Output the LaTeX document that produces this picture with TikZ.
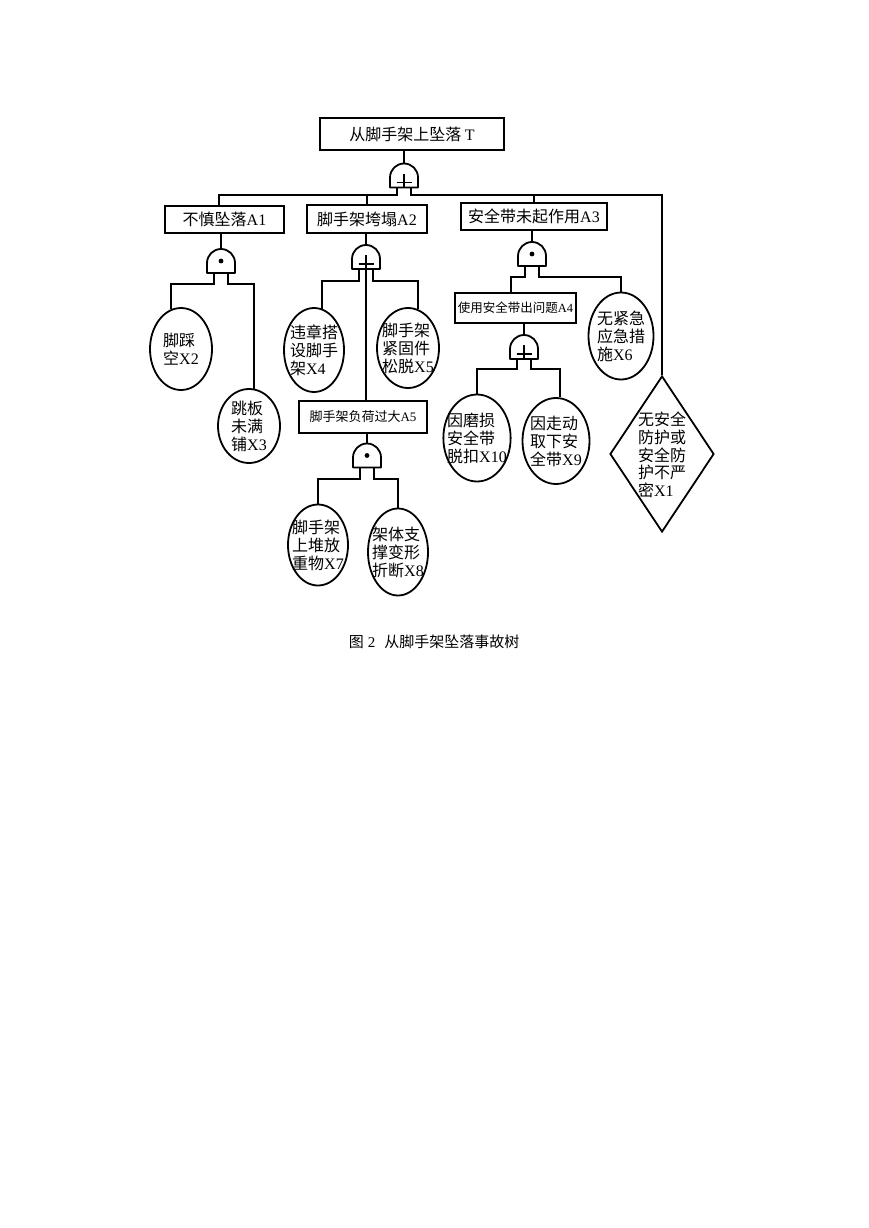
\documentclass[tikz,border=0pt]{standalone}
\usepackage{fontspec}
\setmainfont{Noto Sans CJK SC}
\newfontfamily\latf{Liberation Serif}
\newcommand\Lx[1]{{\latf #1}}
\usetikzlibrary{shapes.geometric}
\tikzset{
 ln/.style={draw=black,line width=1.8pt},
 evbox/.style={rectangle,draw=black,line width=1.8pt,inner sep=0pt,font=\fontsize{16}{18}\selectfont},
 smbox/.style={evbox,font=\fontsize{13}{15}\selectfont},
 basic/.style={ellipse,draw=black,line width=1.8pt,inner sep=-6pt,align=left,font=\fontsize{16}{18}\selectfont},
 undev/.style={diamond,draw=black,line width=1.8pt,inner sep=0pt},
 gatebox/.style={rectangle,minimum width=28pt,minimum height=24pt,inner sep=0pt,outer sep=0pt},
 lbl/.style={align=left,inner sep=0pt,font=\fontsize{16}{17.7}\selectfont},
}
\newcommand\gateshape[1]{\draw[ln,line join=round] (#1.south west) -- ([yshift=10pt]#1.south west) arc[start angle=180,end angle=0,x radius=14pt,y radius=14pt] -- (#1.south east) -- cycle;
 \coordinate (#1l) at ([xshift=-7pt]#1.south);
 \coordinate (#1r) at ([xshift=7pt]#1.south);}
\newcommand\orsym[1]{\draw[ln] ([yshift=14pt]#1.south) -- (#1.south); \draw[ln] ([xshift=-7.5pt,yshift=5pt]#1.south) -- ([xshift=7.5pt,yshift=5pt]#1.south);}
\newcommand\andsym[1]{\fill ([yshift=12pt]#1.south) circle[radius=2.4pt];}
\begin{document}
\begin{tikzpicture}[x=1pt,y=-1pt]
\useasboundingbox (0,0) rectangle (869,1228);
\fill[white] (0,0) rectangle (869,1228);

% event boxes
\node[evbox,minimum width=184pt,minimum height=32pt] (T) at (412,134) {从脚手架上坠落 \Lx{T}};
\node[evbox,minimum width=119pt,minimum height=27pt] (A1) at (224.5,219.5) {不慎坠落\Lx{A1}};
\node[evbox,minimum width=120pt,minimum height=28pt] (A2) at (367,219) {脚手架垮塌\Lx{A2}};
\node[evbox,minimum width=146pt,minimum height=27pt] (A3) at (534,216.5) {安全带未起作用\Lx{A3}};
\node[smbox,font=\fontsize{12.5}{15}\selectfont,minimum width=121pt,minimum height=30pt] (A4) at (515.5,308) {使用安全带出问题\Lx{A4}};
\node[smbox,minimum width=128pt,minimum height=32pt] (A5) at (363,417) {脚手架负荷过大\Lx{A5}};

% basic events
\node[basic,minimum width=62pt,minimum height=82pt] (X2) at (181,349) {脚踩\\空\Lx{X2}};
\node[basic,minimum width=62pt,minimum height=74pt] (X3) at (249,426) {跳板\\未满\\铺\Lx{X3}};
\node[basic,minimum width=60pt,minimum height=84pt] (X4) at (314,350) {违章搭\\设脚手\\架\Lx{X4}};
\node[basic,minimum width=62pt,minimum height=80pt] (X5) at (408,348) {脚手架\\紧固件\\松脱\Lx{X5}};
\node[basic,minimum width=65pt,minimum height=87pt] (X6) at (621,336) {无紧急\\应急措\\施\Lx{X6}};
\node[basic,minimum width=60pt,minimum height=81pt] (X7) at (318,545) {脚手架\\上堆放\\重物\Lx{X7}};
\node[basic,minimum width=60pt,minimum height=87pt] (X8) at (398,552) {架体支\\撑变形\\折断\Lx{X8}};
\node[basic,minimum width=67pt,minimum height=87pt] (X10) at (477,438) {因磨损\\安全带\\脱扣\Lx{X10}};
\node[basic,minimum width=67pt,minimum height=86pt] (X9) at (556,441) {因走动\\取下安\\全带\Lx{X9}};
\node[undev,minimum width=104pt,minimum height=156pt] (X1) at (662,454) {};
\node[lbl] (X1t) at (662,455) {无安全\\防护或\\安全防\\护不严\\密\Lx{X1}};

% gates
\node[gatebox] (g0) at (404,175.5) {}; \gateshape{g0} \orsym{g0}
\node[gatebox] (g1) at (221,261) {}; \gateshape{g1} \andsym{g1}
\node[gatebox] (g2) at (366,257) {}; \gateshape{g2} \orsym{g2}
\node[gatebox] (g3) at (367,455.5) {}; \gateshape{g3} \andsym{g3}
\node[gatebox] (g4) at (532,254) {}; \gateshape{g4} \andsym{g4}
\node[gatebox] (g5) at (524,347) {}; \gateshape{g5} \orsym{g5}

% bus levels and offset anchors
\coordinate (bus0) at (0,195);
\coordinate (bus1) at (0,284);
\coordinate (bus2) at (0,281);
\coordinate (bus3) at (0,479);
\coordinate (bus4) at (0,277);
\coordinate (bus5) at (0,369);
\coordinate (A1c) at ([xshift=-5.5pt]A1.north);
\coordinate (A4c) at ([xshift=-4.5pt]A4.north);

% connectors
\draw[ln] ([xshift=-8pt]T.south) -- (g0.north);
\draw[ln] (g0l) |- (bus0 -| A1c) -- (A1c);
\draw[ln] (A2.north |- bus0) -- (A2.north);
\draw[ln] (g0r) |- (bus0 -| X1.north) -- (X1.north);
\draw[ln] (A3.north |- bus0) -- (A3.north);

\draw[ln] (g1.north |- A1.south) -- (g1.north);
\draw[ln] (g1l) |- (bus1 -| X2.104) -- (X2.104);
\draw[ln] (g1r) |- (bus1 -| X3.82) -- (X3.82);

\draw[ln] (g2.north |- A2.south) -- (g2.north);
\draw[ln] (g2l) |- (bus2 -| X4.79) -- (X4.79);
\draw[ln] (g2r) |- (bus2 -| X5.75) -- (X5.75);
\draw[ln] (g2.south) -- (g2.south |- A5.north);

\draw[ln] (g3.north |- A5.south) -- (g3.north);
\draw[ln] (g3l) |- (bus3 -| X7.north) -- (X7.north);
\draw[ln] (g3r) |- (bus3 -| X8.north) -- (X8.north);

\draw[ln] (g4.north |- A3.south) -- (g4.north);
\draw[ln] (g4l) |- (bus4 -| A4c) -- (A4c);
\draw[ln] (g4r) |- (bus4 -| X6.north) -- (X6.north);

\draw[ln] (g5.north |- A4.south) -- (g5.north);
\draw[ln] (g5l) |- (bus5 -| X10.north) -- (X10.north);
\draw[ln] (g5r) |- (bus5 -| X9.85) -- (X9.85);

% caption
\node[font=\fontsize{15}{17}\selectfont,inner sep=0pt] (cap) at (434,642) {图\hspace{4pt}\Lx{2}\hspace{9pt}从脚手架坠落事故树};
\end{tikzpicture}
\end{document}
